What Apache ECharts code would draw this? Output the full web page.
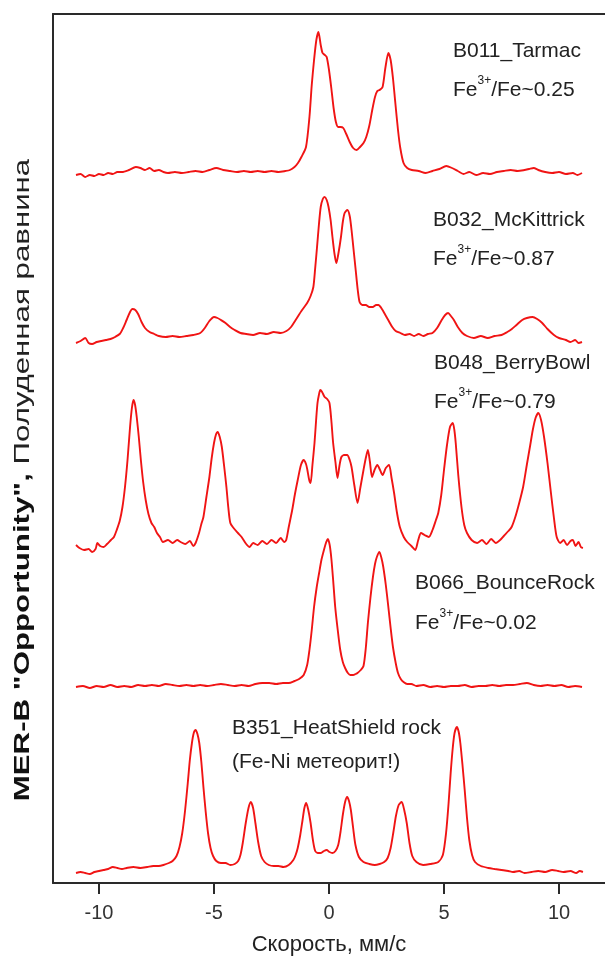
<!DOCTYPE html>
<html><head><meta charset="utf-8">
<script src="https://cdn.jsdelivr.net/npm/echarts@6/dist/echarts.min.js"></script>
<style>html,body{margin:0;padding:0;background:#fff}#c{width:605px;height:961px}</style>
</head><body><div id="c"></div>
<script>
// velocity (mm/s), stacked intensity (arbitrary units, offset per spectrum)
const tarmac = [[-11,708],[-10.8,709],[-10.6,706],[-10.4,708],[-10.2,707],[-10,709],[-9.8,708],[-9.6,710],[-9.4,709],[-9.2,711],[-9,711],[-8.7,713],[-8.4,716],[-8.2,715],[-8,713],[-7.8,715],[-7.6,712],[-7.4,713],[-7.2,711],[-7,710],[-6.7,711],[-6.4,710],[-6.1,711],[-5.8,712],[-5.5,711],[-5.2,713],[-4.9,715],[-4.6,713],[-4.3,712],[-4,711],[-3.7,712],[-3.4,711],[-3.1,712],[-2.8,711],[-2.5,712],[-2.2,711],[-1.9,712],[-1.7,713],[-1.5,716],[-1.35,720],[-1.2,726],[-1,736],[-0.85,766],[-0.75,798],[-0.65,823],[-0.55,843],[-0.46,851],[-0.36,838],[-0.28,830],[-0.18,828],[-0.1,826],[0,813],[0.1,795],[0.2,775],[0.3,761],[0.4,756],[0.5,756],[0.62,755],[0.75,749],[0.9,741],[1.05,735],[1.2,733],[1.35,736],[1.5,740],[1.62,746],[1.75,757],[1.88,773],[2,786],[2.1,792],[2.2,793],[2.33,796],[2.45,815],[2.58,830],[2.68,823],[2.78,805],[2.88,781],[3,753],[3.1,735],[3.24,720],[3.4,715],[3.6,713],[3.9,712],[4.2,710],[4.5,712],[4.8,714],[5.1,717],[5.35,715],[5.6,712],[5.85,709],[6.1,711],[6.4,708],[6.7,710],[7,709],[7.3,711],[7.6,712],[7.9,713],[8.2,712],[8.5,713],[8.7,714],[8.9,715],[9.1,713],[9.4,711],[9.7,710],[10,711],[10.3,709],[10.6,710],[10.8,708],[11,710]];
const mcKittrick = [[-11,540],[-10.8,542],[-10.6,545],[-10.45,540],[-10.3,539],[-10.1,541],[-9.9,542],[-9.7,543],[-9.5,544],[-9.3,546],[-9.1,549],[-8.95,555],[-8.8,563],[-8.65,571],[-8.55,574],[-8.42,573],[-8.3,569],[-8.15,561],[-8,555],[-7.8,551],[-7.6,549],[-7.4,547],[-7.1,546],[-6.8,547],[-6.5,546],[-6.2,547],[-5.9,548],[-5.6,550],[-5.4,555],[-5.2,562],[-5,566],[-4.85,565],[-4.7,563],[-4.5,560],[-4.3,556],[-4.1,553],[-3.85,550],[-3.6,549],[-3.3,548],[-3,550],[-2.7,549],[-2.4,551],[-2.1,550],[-1.85,552],[-1.65,556],[-1.45,563],[-1.2,572],[-0.95,580],[-0.8,587],[-0.68,596],[-0.6,615],[-0.52,636],[-0.44,658],[-0.36,676],[-0.27,684],[-0.19,686],[-0.1,683],[-0.02,676],[0.07,663],[0.15,646],[0.24,629],[0.32,620],[0.42,631],[0.52,646],[0.6,661],[0.68,670],[0.8,673],[0.9,667],[0.98,653],[1.07,633],[1.16,613],[1.25,593],[1.33,581],[1.45,578],[1.6,578],[1.75,576],[1.9,576],[2.05,578],[2.15,578],[2.3,574],[2.45,568],[2.6,562],[2.75,556],[2.9,552],[3.1,550],[3.3,548],[3.5,549],[3.7,547],[3.9,549],[4.1,547],[4.3,549],[4.5,550],[4.7,555],[4.9,563],[5.05,568],[5.18,570],[5.3,567],[5.43,563],[5.6,556],[5.8,550],[6,547],[6.3,545],[6.6,547],[6.9,545],[7.2,547],[7.5,548],[7.75,551],[7.95,554],[8.15,558],[8.4,563],[8.6,565],[8.85,566],[9.05,564],[9.27,560],[9.5,554],[9.78,548],[10,545],[10.3,543],[10.5,541],[10.7,543],[10.85,540],[11,541]];
const berryBowl = [[-11,338],[-10.85,335],[-10.65,333],[-10.45,334],[-10.3,331],[-10.15,334],[-10.07,340],[-9.95,337],[-9.8,336],[-9.65,339],[-9.48,343],[-9.35,346],[-9.23,353],[-9.1,362],[-8.98,376],[-8.87,396],[-8.76,423],[-8.65,456],[-8.57,475],[-8.5,483],[-8.43,478],[-8.36,466],[-8.27,446],[-8.18,423],[-8.08,401],[-7.97,383],[-7.85,369],[-7.72,360],[-7.6,356],[-7.48,350],[-7.35,346],[-7.22,341],[-7,343],[-6.8,340],[-6.6,343],[-6.45,341],[-6.25,339],[-6.05,342],[-5.9,337],[-5.8,340],[-5.65,350],[-5.55,359],[-5.46,366],[-5.33,386],[-5.2,406],[-5.1,425],[-5,440],[-4.92,448],[-4.84,451],[-4.75,446],[-4.66,436],[-4.56,417],[-4.46,396],[-4.38,376],[-4.29,360],[-4.15,355],[-3.96,350],[-3.8,346],[-3.6,339],[-3.45,336],[-3.3,340],[-3.1,338],[-2.9,342],[-2.7,339],[-2.5,343],[-2.3,340],[-2.1,345],[-1.95,341],[-1.86,343],[-1.75,356],[-1.6,373],[-1.48,389],[-1.36,403],[-1.22,418],[-1.1,423],[-1,419],[-0.94,413],[-0.86,403],[-0.8,400],[-0.72,418],[-0.63,440],[-0.56,463],[-0.5,480],[-0.44,488],[-0.38,493],[-0.3,491],[-0.19,486],[-0.08,484],[0.02,480],[0.1,463],[0.18,440],[0.28,421],[0.37,405],[0.46,418],[0.54,426],[0.66,428],[0.79,428],[0.9,423],[0.98,416],[1.1,398],[1.24,380],[1.36,395],[1.5,413],[1.6,425],[1.69,433],[1.78,421],[1.87,406],[1.98,413],[2.1,418],[2.22,413],[2.33,408],[2.47,415],[2.61,418],[2.72,405],[2.83,390],[2.95,371],[3.08,356],[3.25,346],[3.4,341],[3.58,337],[3.75,333],[3.88,343],[4,350],[4.15,348],[4.34,346],[4.5,353],[4.65,363],[4.75,370],[4.88,388],[5,413],[5.13,438],[5.26,456],[5.38,460],[5.45,453],[5.51,440],[5.62,408],[5.76,376],[5.88,358],[6,350],[6.2,343],[6.44,340],[6.65,343],[6.85,339],[7.05,344],[7.25,340],[7.44,343],[7.6,347],[7.8,352],[7.94,356],[8.1,366],[8.27,380],[8.44,396],[8.6,418],[8.75,438],[8.86,453],[8.98,465],[9.1,470],[9.22,463],[9.35,446],[9.5,420],[9.65,390],[9.78,365],[9.9,346],[10.05,340],[10.2,343],[10.35,338],[10.5,342],[10.6,343],[10.72,337],[10.85,341],[10.95,336],[11.04,335]];
const bounceRock = [[-11,196],[-10.7,197],[-10.4,195],[-10.1,197],[-9.8,196],[-9.5,198],[-9.2,196],[-8.9,197],[-8.6,196],[-8.3,198],[-8,197],[-7.7,198],[-7.4,197],[-7.1,199],[-6.8,198],[-6.5,197],[-6.2,198],[-5.9,197],[-5.6,198],[-5.3,197],[-5,198],[-4.7,199],[-4.4,198],[-4.1,197],[-3.8,198],[-3.5,197],[-3.2,199],[-2.9,200],[-2.6,200],[-2.3,199],[-2,200],[-1.75,200],[-1.5,202],[-1.3,204],[-1.1,208],[-0.95,218],[-0.85,233],[-0.75,253],[-0.65,276],[-0.54,295],[-0.43,310],[-0.33,323],[-0.22,333],[-0.12,341],[-0.05,344],[0.03,338],[0.1,325],[0.18,303],[0.27,276],[0.38,253],[0.49,233],[0.6,221],[0.7,215],[0.82,210],[0.93,208],[1.05,208],[1.15,209],[1.24,210],[1.38,213],[1.5,217],[1.6,235],[1.69,260],[1.8,285],[1.91,306],[2,319],[2.08,326],[2.19,331],[2.28,325],[2.36,316],[2.47,298],[2.58,276],[2.68,255],[2.78,236],[2.9,220],[3,210],[3.12,204],[3.24,201],[3.4,199],[3.58,199],[3.8,197],[4.1,198],[4.4,196],[4.7,197],[5,196],[5.3,197],[5.6,197],[5.9,198],[6.2,196],[6.5,197],[6.8,197],[7.1,198],[7.4,197],[7.7,198],[8,198],[8.3,199],[8.6,200],[8.9,198],[9.2,197],[9.5,198],[9.8,197],[10.1,198],[10.4,196],[10.7,197],[11,196]];
const heatShield = [[-11,10],[-10.8,11],[-10.6,10],[-10.4,9],[-10.2,11],[-10,12],[-9.8,13],[-9.6,14],[-9.4,16],[-9.2,15],[-9,14],[-8.8,15],[-8.5,16],[-8.2,15],[-7.9,16],[-7.64,17],[-7.4,17],[-7.2,18],[-6.96,20],[-6.8,22],[-6.63,27],[-6.5,36],[-6.38,50],[-6.26,72],[-6.14,100],[-6.05,123],[-5.96,140],[-5.88,150],[-5.8,153],[-5.72,149],[-5.64,140],[-5.55,121],[-5.46,96],[-5.36,71],[-5.26,50],[-5.15,35],[-5.04,27],[-4.9,22],[-4.7,20],[-4.5,20],[-4.29,18],[-4.1,19],[-3.95,22],[-3.85,28],[-3.75,40],[-3.62,60],[-3.5,75],[-3.4,81],[-3.3,75],[-3.2,60],[-3.08,41],[-2.95,27],[-2.8,21],[-2.62,18],[-2.4,17],[-2.2,17],[-1.98,16],[-1.75,18],[-1.55,23],[-1.45,28],[-1.36,35],[-1.25,48],[-1.15,63],[-1.07,75],[-0.99,80],[-0.9,73],[-0.8,60],[-0.7,43],[-0.6,32],[-0.48,30],[-0.35,30],[-0.22,32],[-0.1,33],[0.02,31],[0.15,30],[0.28,32],[0.4,38],[0.5,51],[0.6,68],[0.7,81],[0.79,86],[0.87,82],[0.95,73],[1.05,55],[1.15,38],[1.3,26],[1.5,21],[1.75,19],[1.99,18],[2.2,19],[2.4,21],[2.55,25],[2.68,35],[2.8,51],[2.91,67],[3.03,78],[3.16,81],[3.27,73],[3.38,60],[3.5,40],[3.62,27],[3.8,21],[4.09,18],[4.4,19],[4.75,21],[4.95,28],[5.09,50],[5.2,80],[5.29,110],[5.38,135],[5.46,150],[5.56,156],[5.64,151],[5.71,140],[5.8,119],[5.9,93],[6,65],[6.1,43],[6.22,28],[6.35,21],[6.6,17],[6.93,15],[7.2,14],[7.5,13],[7.8,12],[8,11],[8.27,12],[8.5,10],[8.8,11],[9.1,12],[9.4,11],[9.7,13],[9.96,12],[10.2,11],[10.5,12],[10.75,10],[10.9,12],[11.04,11]];

const xTicks = [-10, -5, 0, 5, 10];
const sampleNames = ['B011_Tarmac', 'B032_McKittrick', 'B048_BerryBowl', 'B066_BounceRock', 'B351_HeatShield rock'];
const fe3Ratios = ['0.25', '0.87', '0.79', '0.02'];
const heatShieldNote = '(Fe-Ni метеорит!)';
const xTitle = 'Скорость, мм/с';
const yTitleBold = 'MER-B "Opportunity",';
const yTitleNormal = ' Полуденная равнина';

const chart = echarts.init(document.getElementById('c'));
const FONT = 'Liberation Sans, Arial, sans-serif';
const TXT = '#222';
const LINE = '#f01414';
const AX = '#2a2a2a';

function ratioText(i, x, y) {
  return {
    type: 'text', x: x, y: y,
    style: {
      text: '{n|Fe}{s|3+}{n|/Fe~' + fe3Ratios[i] + '}',
      rich: {
        n: { fontSize: 21, fontFamily: FONT, fill: TXT, lineHeight: 26, verticalAlign: 'bottom' },
        s: { fontSize: 12, fontFamily: FONT, fill: TXT, lineHeight: 26, verticalAlign: 'top' }
      },
      verticalAlign: 'middle'
    }
  };
}
function nameText(s, x, y) {
  return { type: 'text', x: x, y: y, style: { text: s, fontSize: 21, fontFamily: FONT, fill: TXT, verticalAlign: 'middle' } };
}

const series = [tarmac, mcKittrick, berryBowl, bounceRock, heatShield].map((d, i) => ({
  type: 'line', name: sampleNames[i], data: d, showSymbol: false, smooth: 0.25,
  lineStyle: { color: LINE, width: 1.9 }, silent: true, animation: false
}));

chart.setOption({
  animation: false,
  grid: { left: 53, top: 14, width: 552, height: 869, containLabel: false, outerBoundsMode: 'none' },
  xAxis: [{
    type: 'value', min: -12, max: 12, position: 'bottom',
    axisLine: { show: true, lineStyle: { color: AX, width: 2 } },
    axisTick: { show: true, customValues: xTicks, length: 11, inside: false, lineStyle: { color: AX, width: 2 } },
    axisLabel: { show: true, customValues: xTicks, margin: 20, fontSize: 20, fontFamily: FONT, color: '#333' },
    splitLine: { show: false },
    name: xTitle, nameLocation: 'middle', nameGap: 51,
    nameTextStyle: { fontSize: 22, fontFamily: FONT, color: TXT }
  }, {
    type: 'value', min: -12, max: 12, position: 'top',
    axisLine: { show: true, onZero: false, lineStyle: { color: AX, width: 2 } },
    axisTick: { show: false }, axisLabel: { show: false }, splitLine: { show: false }
  }],
  yAxis: {
    type: 'value', min: 0, max: 869,
    axisLine: { show: true, onZero: false, lineStyle: { color: AX, width: 2 } },
    axisTick: { show: false }, axisLabel: { show: false }, splitLine: { show: false }
  },
  series: series,
  graphic: [
    nameText(sampleNames[0], 453, 51), ratioText(0, 453, 88),
    nameText(sampleNames[1], 433, 220), ratioText(1, 433, 257),
    nameText(sampleNames[2], 434, 363), ratioText(2, 434, 400),
    nameText(sampleNames[3], 415, 583), ratioText(3, 415, 621),
    nameText(sampleNames[4], 232, 728), nameText(heatShieldNote, 232, 762),
    {
      type: 'text', x: 23, y: 480, rotation: Math.PI / 2, scaleX: 1.42,
      style: {
        text: '{b|' + yTitleBold + '}{r|' + yTitleNormal + '}',
        rich: {
          b: { fontSize: 22, fontWeight: 'bold', fontFamily: FONT, fill: '#111' },
          r: { fontSize: 22, fontFamily: FONT, fill: '#222' }
        },
        align: 'center', verticalAlign: 'middle'
      }
    }
  ]
});
</script></body></html>
